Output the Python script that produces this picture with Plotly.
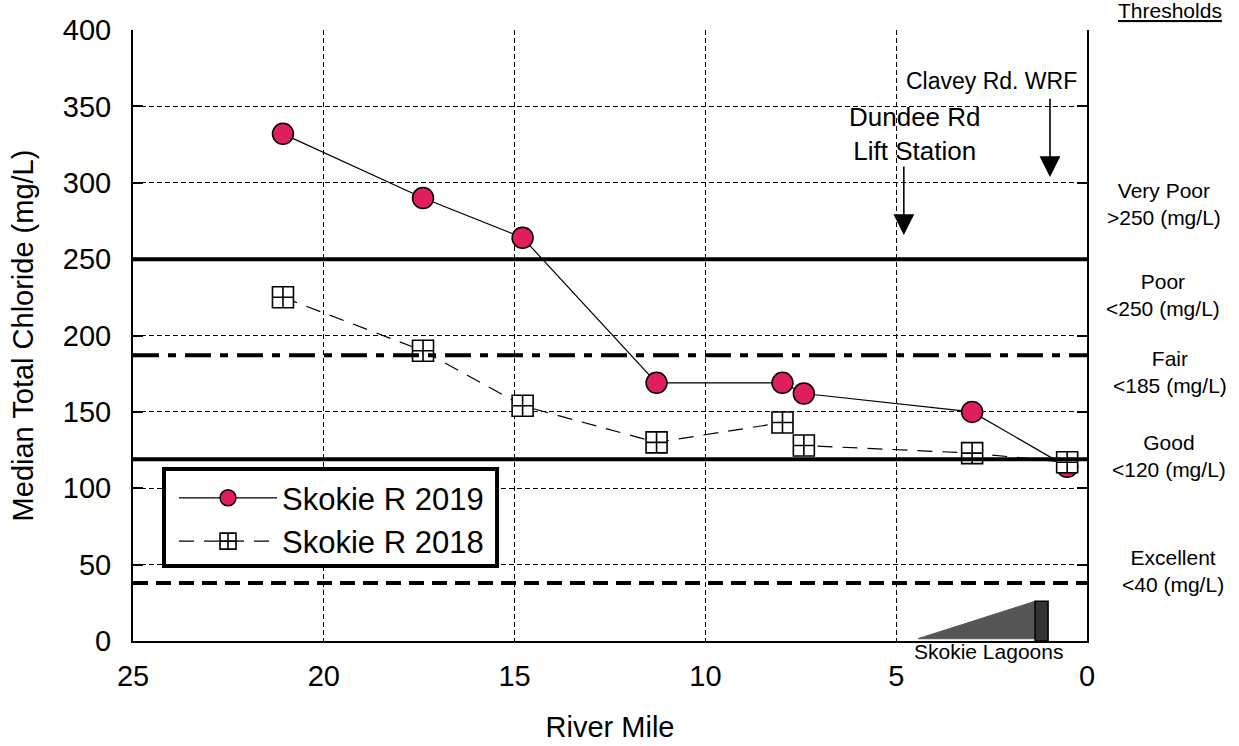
import plotly.graph_objects as go

# ---- data ----
river_mile = [21.07, 17.4, 14.79, 11.28, 7.98, 7.42, 3.01, 0.52]
chloride_2019 = [332, 290, 264, 169, 169, 162, 150, 114]
chloride_2018 = [225, 190, 154, 130, 143, 128, 123, 117]
series_names = ["Skokie R 2019", "Skokie R 2018"]

threshold_values = [250, 187, 119, 38]
threshold_labels = ["Very Poor<br>&gt;250 (mg/L)", "Poor<br>&lt;250 (mg/L)", "Fair<br>&lt;185 (mg/L)",
                    "Good<br>&lt;120 (mg/L)", "Excellent<br>&lt;40 (mg/L)"]

x_ticks = [25, 20, 15, 10, 5, 0]
y_ticks = [0, 50, 100, 150, 200, 250, 300, 350, 400]

FONT = "Arial, Liberation Sans, sans-serif"

fig = go.Figure()

fig.add_trace(go.Scatter(
    x=river_mile, y=chloride_2019, name=series_names[0], mode="lines+markers",
    line=dict(color="black", width=1.2),
    marker=dict(symbol="circle", size=21, color="#E01F5A", line=dict(color="black", width=1.5)),
))
fig.add_trace(go.Scatter(
    x=river_mile, y=chloride_2018, name=series_names[1], mode="lines+markers",
    line=dict(color="black", width=1.2, dash="15px,10px"),
    marker=dict(symbol="square-cross", size=21, color="white", line=dict(color="black", width=1.6)),
))

# threshold lines
styles = [dict(width=4, dash="solid"), dict(width=4, dash="26px,9px,8px,9px"),
          dict(width=4, dash="solid"), dict(width=4, dash="15px,8px")]
for v, st in zip(threshold_values, styles):
    fig.add_shape(type="line", xref="paper", x0=0, x1=1, yref="y", y0=v, y1=v,
                  line=dict(color="black", **st), layer="above")

# Skokie Lagoons graphic
fig.add_shape(type="path", xref="x", yref="y",
              path="M 4.43,1.5 L 1.36,26 L 1.36,1.5 Z",
              fillcolor="#555555", line=dict(color="#555555", width=1))
fig.add_shape(type="rect", xref="x", yref="y", x0=1.36, x1=1.02, y0=0, y1=26,
              fillcolor="#333333", line=dict(color="black", width=1.5))

# legend frame
fig.add_shape(type="rect", xref="paper", yref="paper", x0=0.0325, x1=0.3816, y0=0.1227, y1=0.2815,
              fillcolor="white", line=dict(color="black", width=4), layer="above")

ann = []
# arrows
ann.append(dict(x=4.8, y=265.8, ax=4.8, ay=311.6, xref="x", yref="y", axref="x", ayref="y",
                text="", showarrow=True, arrowhead=2, arrowsize=2.6, arrowwidth=1.6, arrowcolor="black"))
ann.append(dict(x=0.97, y=303.8, ax=0.97, ay=356, xref="x", yref="y", axref="x", ayref="y",
                text="", showarrow=True, arrowhead=2, arrowsize=2.6, arrowwidth=1.6, arrowcolor="black"))
ann.append(dict(x=4.5, y=332, xref="x", yref="y", text="Dundee Rd<br>Lift Station", showarrow=False,
                xanchor="center", yanchor="middle",
                font=dict(family=FONT, size=26, color="black"), align="center"))
ann.append(dict(x=2.49, y=366.6, xref="x", yref="y", text="Clavey Rd. WRF", showarrow=False,
                xanchor="center", yanchor="middle",
                font=dict(family=FONT, size=23, color="black")))
ann.append(dict(x=2.57, y=-0.018, xref="x", yref="paper", text="Skokie Lagoons", showarrow=False,
                xanchor="center", yanchor="middle",
                font=dict(family=FONT, size=21, color="black")))

# right-side threshold labels
label_pos = [(1.0807, 0.716), (1.0797, 0.566), (1.087, 0.440), (1.086, 0.303), (1.090, 0.1146)]
for t, (px, py) in zip(threshold_labels, label_pos):
    ann.append(dict(x=px, y=py, xref="paper", yref="paper", text=t, showarrow=False,
                    xanchor="center", yanchor="middle",
                    font=dict(family=FONT, size=21, color="black"), align="center"))
ann.append(dict(x=1.087, y=1.0327, xref="paper", yref="paper", text="<u>Thresholds</u>", showarrow=False,
                xanchor="center", yanchor="middle",
                font=dict(family=FONT, size=21, color="black")))

fig.update_layout(
    width=1239, height=746,
    margin=dict(l=133, r=152, t=30, b=105),
    paper_bgcolor="white", plot_bgcolor="white",
    font=dict(family=FONT, color="black"),
    annotations=ann,
    showlegend=True,
    legend=dict(x=0.043, y=0.278, xanchor="left", yanchor="top", bgcolor="rgba(0,0,0,0)",
                borderwidth=0, font=dict(family=FONT, size=31, color="black"),
                itemwidth=98, tracegroupgap=0),
    xaxis=dict(range=[25, 0], tickvals=x_ticks, ticks="", showline=True, linecolor="black", linewidth=2,
               showgrid=True, gridcolor="black", gridwidth=1, griddash="5px,3px", zeroline=False,
               automargin=False,
               tickfont=dict(family=FONT, size=29, color="black"), ticklabelstandoff=8,
               title=dict(text="River Mile", font=dict(family=FONT, size=29, color="black"), standoff=26)),
    yaxis=dict(range=[0, 400], tickvals=y_ticks, ticks="inside", ticklen=10, tickwidth=2, tickcolor="black",
               mirror="ticks", showline=True, linecolor="black", linewidth=2,
               showgrid=True, gridcolor="black", gridwidth=1, griddash="5px,3px", zeroline=False,
               automargin=False,
               tickfont=dict(family=FONT, size=29, color="black"), ticklabelstandoff=14,
               title=dict(text="Median Total Chloride (mg/L)", font=dict(family=FONT, size=29, color="black"),
                          standoff=21)),
)

fig.write_html("out.html")
